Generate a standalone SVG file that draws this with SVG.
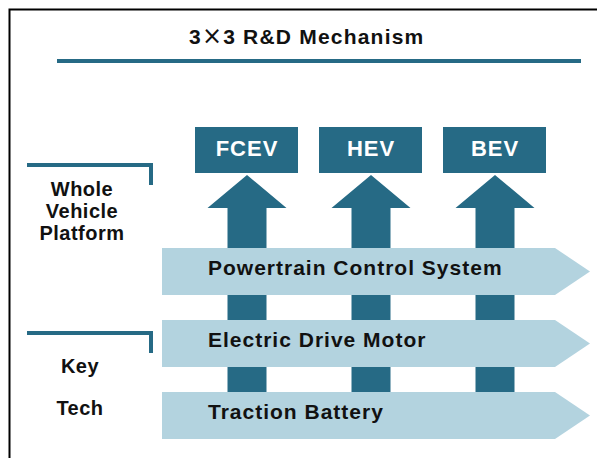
<svg xmlns="http://www.w3.org/2000/svg" width="597" height="458" viewBox="0 0 597 458">
<style>
.t{font-family:"Liberation Sans",Arial,sans-serif;font-weight:bold;fill:#111}
.band{fill:#B3D3DF}
.dark{fill:#266A85}
.bt{font-size:21px;letter-spacing:1px}
.lab{font-size:20px;letter-spacing:0.5px;text-anchor:middle}
.box text{font-size:22px;letter-spacing:1px;text-anchor:middle;fill:#fff}
.br{fill:none;stroke:#266A85;stroke-width:4}
</style>
<rect width="597" height="458" fill="#fff"/>
<path d="M9.5,458 V9.5 H597" fill="none" stroke="#000" stroke-width="2"/>
<g id="title">
<text class="t" x="189" y="43.5" font-size="21" letter-spacing="1.2" fill="#1a1a1a">3<tspan font-family="'DejaVu Sans',sans-serif" font-weight="normal" font-size="24">×</tspan>3 R&amp;D Mechanism</text>
<rect x="57" y="59" width="524" height="4" class="dark"/>
</g>
<g id="connectors">
<path class="dark" d="M247,175 L286.5,208 H266.5 V439 H227.5 V208 H207.5 Z"/>
<path class="dark" d="M371,175 L410.5,208 H390.5 V439 H351.5 V208 H331.5 Z"/>
<path class="dark" d="M495,175 L534.5,208 H514.5 V439 H475.5 V208 H455.5 Z"/>
</g>
<g id="powertrain">
<path class="band" d="M162,248 H555 L590,271.5 L555,295 H162 Z"/>
<text class="t bt" x="208" y="275">Powertrain Control System</text>
</g>
<g id="motor">
<path class="band" d="M162,320 H555 L590,343.5 L555,367 H162 Z"/>
<text class="t bt" x="208" y="347">Electric Drive Motor</text>
</g>
<g id="battery">
<path class="band" d="M162,392 H555 L590,415.5 L555,439 H162 Z"/>
<text class="t bt" x="208" y="419">Traction Battery</text>
</g>
<g id="fcev" class="box">
<rect class="dark" x="195" y="127" width="103" height="46"/>
<text class="t" x="247" y="155.5">FCEV</text>
</g>
<g id="hev" class="box">
<rect class="dark" x="319" y="127" width="103" height="46"/>
<text class="t" x="371" y="155.5">HEV</text>
</g>
<g id="bev" class="box">
<rect class="dark" x="443" y="127" width="103" height="46"/>
<text class="t" x="495" y="155.5">BEV</text>
</g>
<g id="platform-label">
<path class="br" d="M27,165 H151 V185"/>
<text class="t lab" x="82" y="196">Whole</text>
<text class="t lab" x="82" y="218">Vehicle</text>
<text class="t lab" x="82" y="240">Platform</text>
</g>
<g id="keytech-label">
<path class="br" d="M27,333 H151 V353"/>
<text class="t lab" x="80" y="373">Key</text>
<text class="t lab" x="80" y="415">Tech</text>
</g>
</svg>
